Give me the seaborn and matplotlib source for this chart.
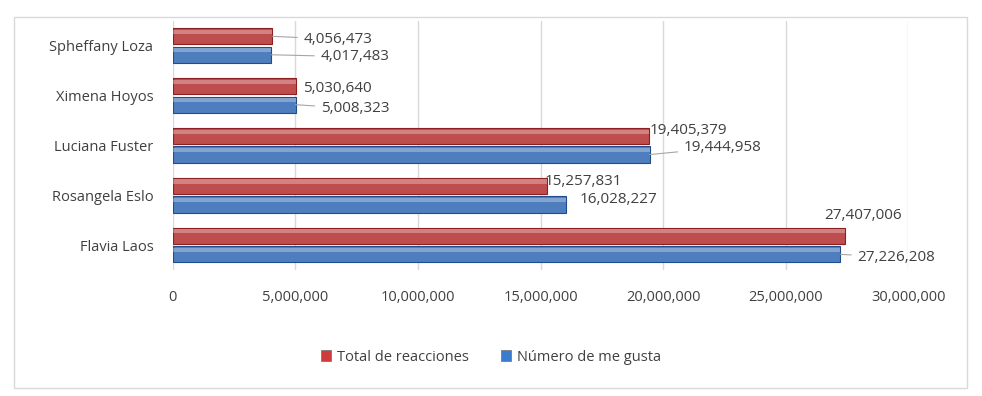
import pandas as pd
import matplotlib.pyplot as plt
import seaborn as sns
from matplotlib.patches import Rectangle
from matplotlib.ticker import FuncFormatter

# datos
nombres = ['Spheffany Loza', 'Ximena Hoyos', 'Luciana Fuster', 'Rosangela Eslo', 'Flavia Laos']
total_reacciones = [4056473, 5030640, 19405379, 15257831, 27407006]
me_gusta = [4017483, 5008323, 19444958, 16028227, 27226208]
series = ['Total de reacciones', 'Número de me gusta']

df = pd.DataFrame({
    'Nombre': nombres * 2,
    'Valor': total_reacciones + me_gusta,
    'Serie': [series[0]] * len(nombres) + [series[1]] * len(nombres),
})

# desplazamiento de las etiquetas (pixeles) y si llevan linea guia
off_rojo = [(31, -3, True), (7, -2, False), (1, 6, False), (-2, 4, False), (-21, 20, False)]
off_azul = [(49, -2, True), (25, -4, True), (34, 7, True), (14, 5, False), (17, -3, True)]

sns.set_style('white')
plt.rcParams['font.family'] = ['Open Sans', 'DejaVu Sans']
gris = '#404040'

fig = plt.figure(figsize=(9.82, 3.96), dpi=100)
ax = fig.add_axes([0.176, 0.318, 0.749, 0.63])

colores = {series[0]: '#D13A3A', series[1]: '#3B7CCF'}
sns.barplot(data=df, x='Valor', y='Nombre', hue='Serie', hue_order=series,
            order=nombres, palette=colores, orient='h', width=0.74, gap=0.12,
            edgecolor='none', legend=False, ax=ax)

# bordes oscuros y brillo superior para imitar el efecto 3D
for cont, borde in zip(ax.containers, ['#8E1F20', '#1F4E8C']):
    for b in cont:
        b.set_edgecolor(borde)
        b.set_linewidth(0.8)
        x0, y0 = b.get_x(), b.get_y()
        w, h = b.get_width(), b.get_height()
        ax.add_patch(Rectangle((x0, y0 + h * 0.1), w, h * 0.25, color='white',
                               alpha=0.3, lw=0, zorder=3))

ax.set_xlim(0, 30000000)
ax.set_ylim(4.5, -0.5)
ax.set_xticks(range(0, 30000001, 5000000))
ax.xaxis.set_major_formatter(FuncFormatter(lambda v, p: f'{int(v):,}'))
ax.grid(axis='x', color='#D9D9D9', lw=1)
ax.set_axisbelow(True)
for s in ax.spines.values():
    s.set_visible(False)
ax.tick_params(axis='both', length=0, labelsize=10.5, colors=gris)
ax.tick_params(axis='x', pad=14)
ax.tick_params(axis='y', pad=14)
ax.set_xlabel('')
ax.set_ylabel('')

# etiquetas de datos
for cont, vals, offs in zip(ax.containers, [total_reacciones, me_gusta], [off_rojo, off_azul]):
    for b, v, (dx, dy, guia) in zip(cont, vals, offs):
        yc = b.get_y() + b.get_height() / 2
        ax.annotate(f'{v:,}', xy=(v, yc), xytext=(dx, dy), textcoords='offset pixels',
                    ha='left', va='center', fontsize=11, color=gris,
                    arrowprops=dict(arrowstyle='-', color='#A6A6A6', lw=0.8,
                                    shrinkA=2, shrinkB=0) if guia else None)

# leyenda
handles = [Rectangle((0, 0), 1, 1, facecolor=colores[s],
                     edgecolor='#6E6E6E', lw=0.5) for s in series]
fig.legend(handles, series, loc='center', bbox_to_anchor=(0.5, 0.098), ncol=2,
           frameon=False, fontsize=10.5, handlelength=0.7, handleheight=0.7,
           handletextpad=0.4, columnspacing=2.2, labelcolor=gris)

# marco exterior
fig.patches.append(Rectangle((14 / 982, 8 / 396), 953 / 982, 371 / 396,
                             transform=fig.transFigure, fill=False,
                             edgecolor='#D9D9D9', lw=1))

fig.savefig('out.png', dpi=100)
